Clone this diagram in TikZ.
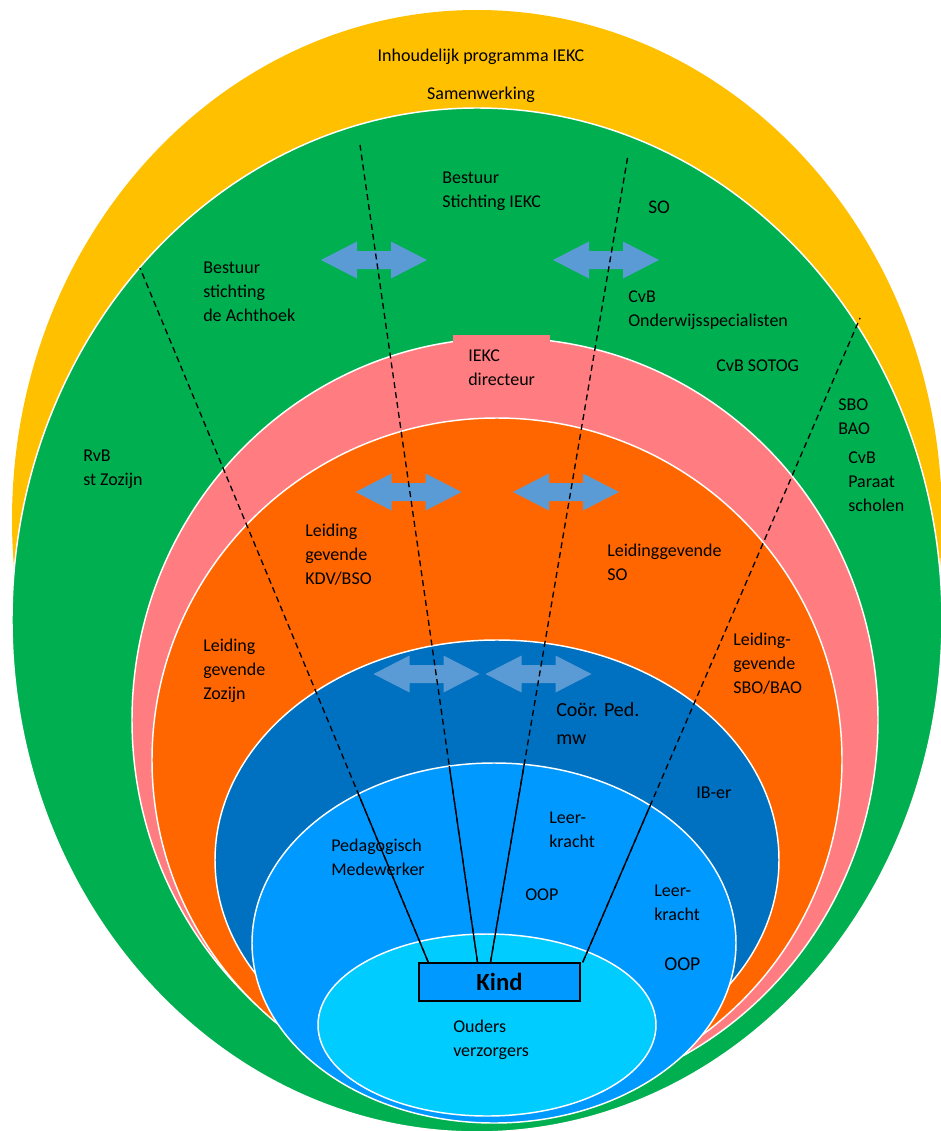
\documentclass[tikz,border=0pt]{standalone}
\usepackage{fontspec}
\setmainfont{Carlito}
\usetikzlibrary{calc}
\definecolor{cYellow}{HTML}{FFC000}
\definecolor{cGreen}{HTML}{00B050}
\definecolor{cPink}{HTML}{FF7C80}
\definecolor{cOrange}{HTML}{FF6600}
\definecolor{cDark}{HTML}{0070C0}
\definecolor{cMid}{HTML}{0099FF}
\definecolor{cCyan}{HTML}{00CCFF}
\definecolor{cArrow}{HTML}{5B9BD5}
\tikzset{
  ring/.style={draw=white,line width=1.1pt},
  lbl/.style={anchor=west,inner sep=0pt,align=left,text=black,font=\fontsize{13.5}{18}\selectfont},
  clbl/.style={lbl,anchor=center,align=center},
  dline/.style={draw=black,line width=1pt,dash pattern=on 4.5pt off 3pt},
  sline/.style={draw=black,line width=1pt},
  kindbox/.style={draw=black,line width=1.1pt,fill=cMid,minimum width=120.75pt,minimum height=28.5pt,inner sep=0pt,font=\fontsize{18.5}{22}\selectfont\bfseries},
  dblarrow/.pic={\fill[cArrow] (-53,0) -- (-17,-18.5) -- (-17,-9) -- (17,-9) -- (17,-18.5) -- (53,0) -- (17,18.5) -- (17,9) -- (-17,9) -- (-17,18.5) -- cycle;}
}
\begin{document}
\begin{tikzpicture}[x=0.75pt,y=-0.75pt]
\useasboundingbox (0,0) rectangle (940,1131);
% nested ellipses
\fill[cYellow] (477,520) ellipse [x radius=465, y radius=510];
\path[ring,fill=cGreen] (477,620) ellipse [x radius=465, y radius=512];
\path[ring,fill=cPink] (505,720) ellipse [x radius=373, y radius=382];
\fill[cPink] (453,335) rectangle (550,346);
\path[ring,fill=cOrange] (497,760) ellipse [x radius=345, y radius=342];
\path[ring,fill=cDark] (497,860) ellipse [x radius=282, y radius=220];
\path[ring,fill=cMid] (494,943) ellipse [x radius=242, y radius=180];
\path[ring,fill=cCyan] (487,1025) ellipse [x radius=169, y radius=91];
% double arrows
\pic at (374,260) {dblarrow};
\pic at (606,260) {dblarrow};
\pic at (408.5,492) {dblarrow};
\pic at (566,492) {dblarrow};
\pic at (426.5,674) {dblarrow};
\pic at (538.5,674) {dblarrow};
% Kind box and lines
\node[kindbox] (kind) at (499.5,982) {Kind};
\coordinate (t1) at (140,268);
\coordinate (t2) at (360,145);
\coordinate (t3) at (628,155);
\coordinate (t4) at (860,318);
\coordinate (b1) at ($(kind.north west)+(10,0)$);
\coordinate (b2) at ($(kind.north)+(-22,0)$);
\coordinate (b3) at ($(kind.north)+(-9,0)$);
\coordinate (b4) at ($(kind.north east)+(2,0)$);
\draw[dline] (b1) -- (t1);
\draw[dline] (b2) -- (t2);
\draw[dline] (b3) -- (t3);
\draw[dline] (b4) -- (t4);
\begin{scope}
\clip (494,943) ellipse [x radius=242, y radius=180];
\draw[sline] (b1) -- (t1);
\draw[sline] (b2) -- (t2);
\draw[sline] (b3) -- (t3);
\draw[sline] (b4) -- (t4);
\end{scope}
\node[kindbox] at (kind.center) {Kind};
% labels
\node[clbl] (l1) at (481,57) {Inhoudelijk programma IEKC};
\node[clbl] (l2) at (481,95) {Samenwerking};
\node[lbl] (l3) at (442,191.5) {Bestuur\\Stichting IEKC};
\node[lbl,font=\fontsize{14.5}{18}\selectfont] (l4) at (648,207) {SO};
\node[lbl] (l5) at (203,292) {Bestuur\\stichting\\de Achthoek};
\node[lbl] (l6) at (628,310) {CvB\\Onderwijsspecialisten};
\node[lbl] (l7) at (468,368) {IEKC\\directeur};
\node[lbl] (l8) at (716,366) {CvB SOTOG};
\node[lbl] (l9) at (838,417) {SBO\\BAO};
\node[lbl] (l10) at (83,469) {RvB\\st Zozijn};
\node[lbl] (l11) at (848,482) {CvB\\Paraat\\scholen};
\node[lbl] (l12) at (305,555) {Leiding\\gevende\\KDV/BSO};
\node[lbl] (l13) at (607,562) {Leidinggevende\\SO};
\node[lbl] (l14) at (203,671) {Leiding\\gevende\\Zozijn};
\node[lbl] (l15) at (733,664) {Leiding-\\gevende\\SBO/BAO};
\node[lbl,font=\fontsize{15}{21}\selectfont] (l16) at (556,724) {Coör. Ped.\\mw};
\node[lbl] (l17) at (696,793) {IB-er};
\node[lbl] (l18) at (549,830) {Leer-\\kracht};
\node[lbl] (l19) at (331,857) {Pedagogisch\\Medewerker};
\node[lbl] (l20) at (525,895) {OOP};
\node[lbl] (l21) at (654,903) {Leer-\\kracht};
\node[lbl,font=\fontsize{14.7}{18}\selectfont] (l22) at (664,964) {OOP};
\node[lbl] (l23) at (453,1040) {Ouders\\verzorgers};
\end{tikzpicture}
\end{document}
